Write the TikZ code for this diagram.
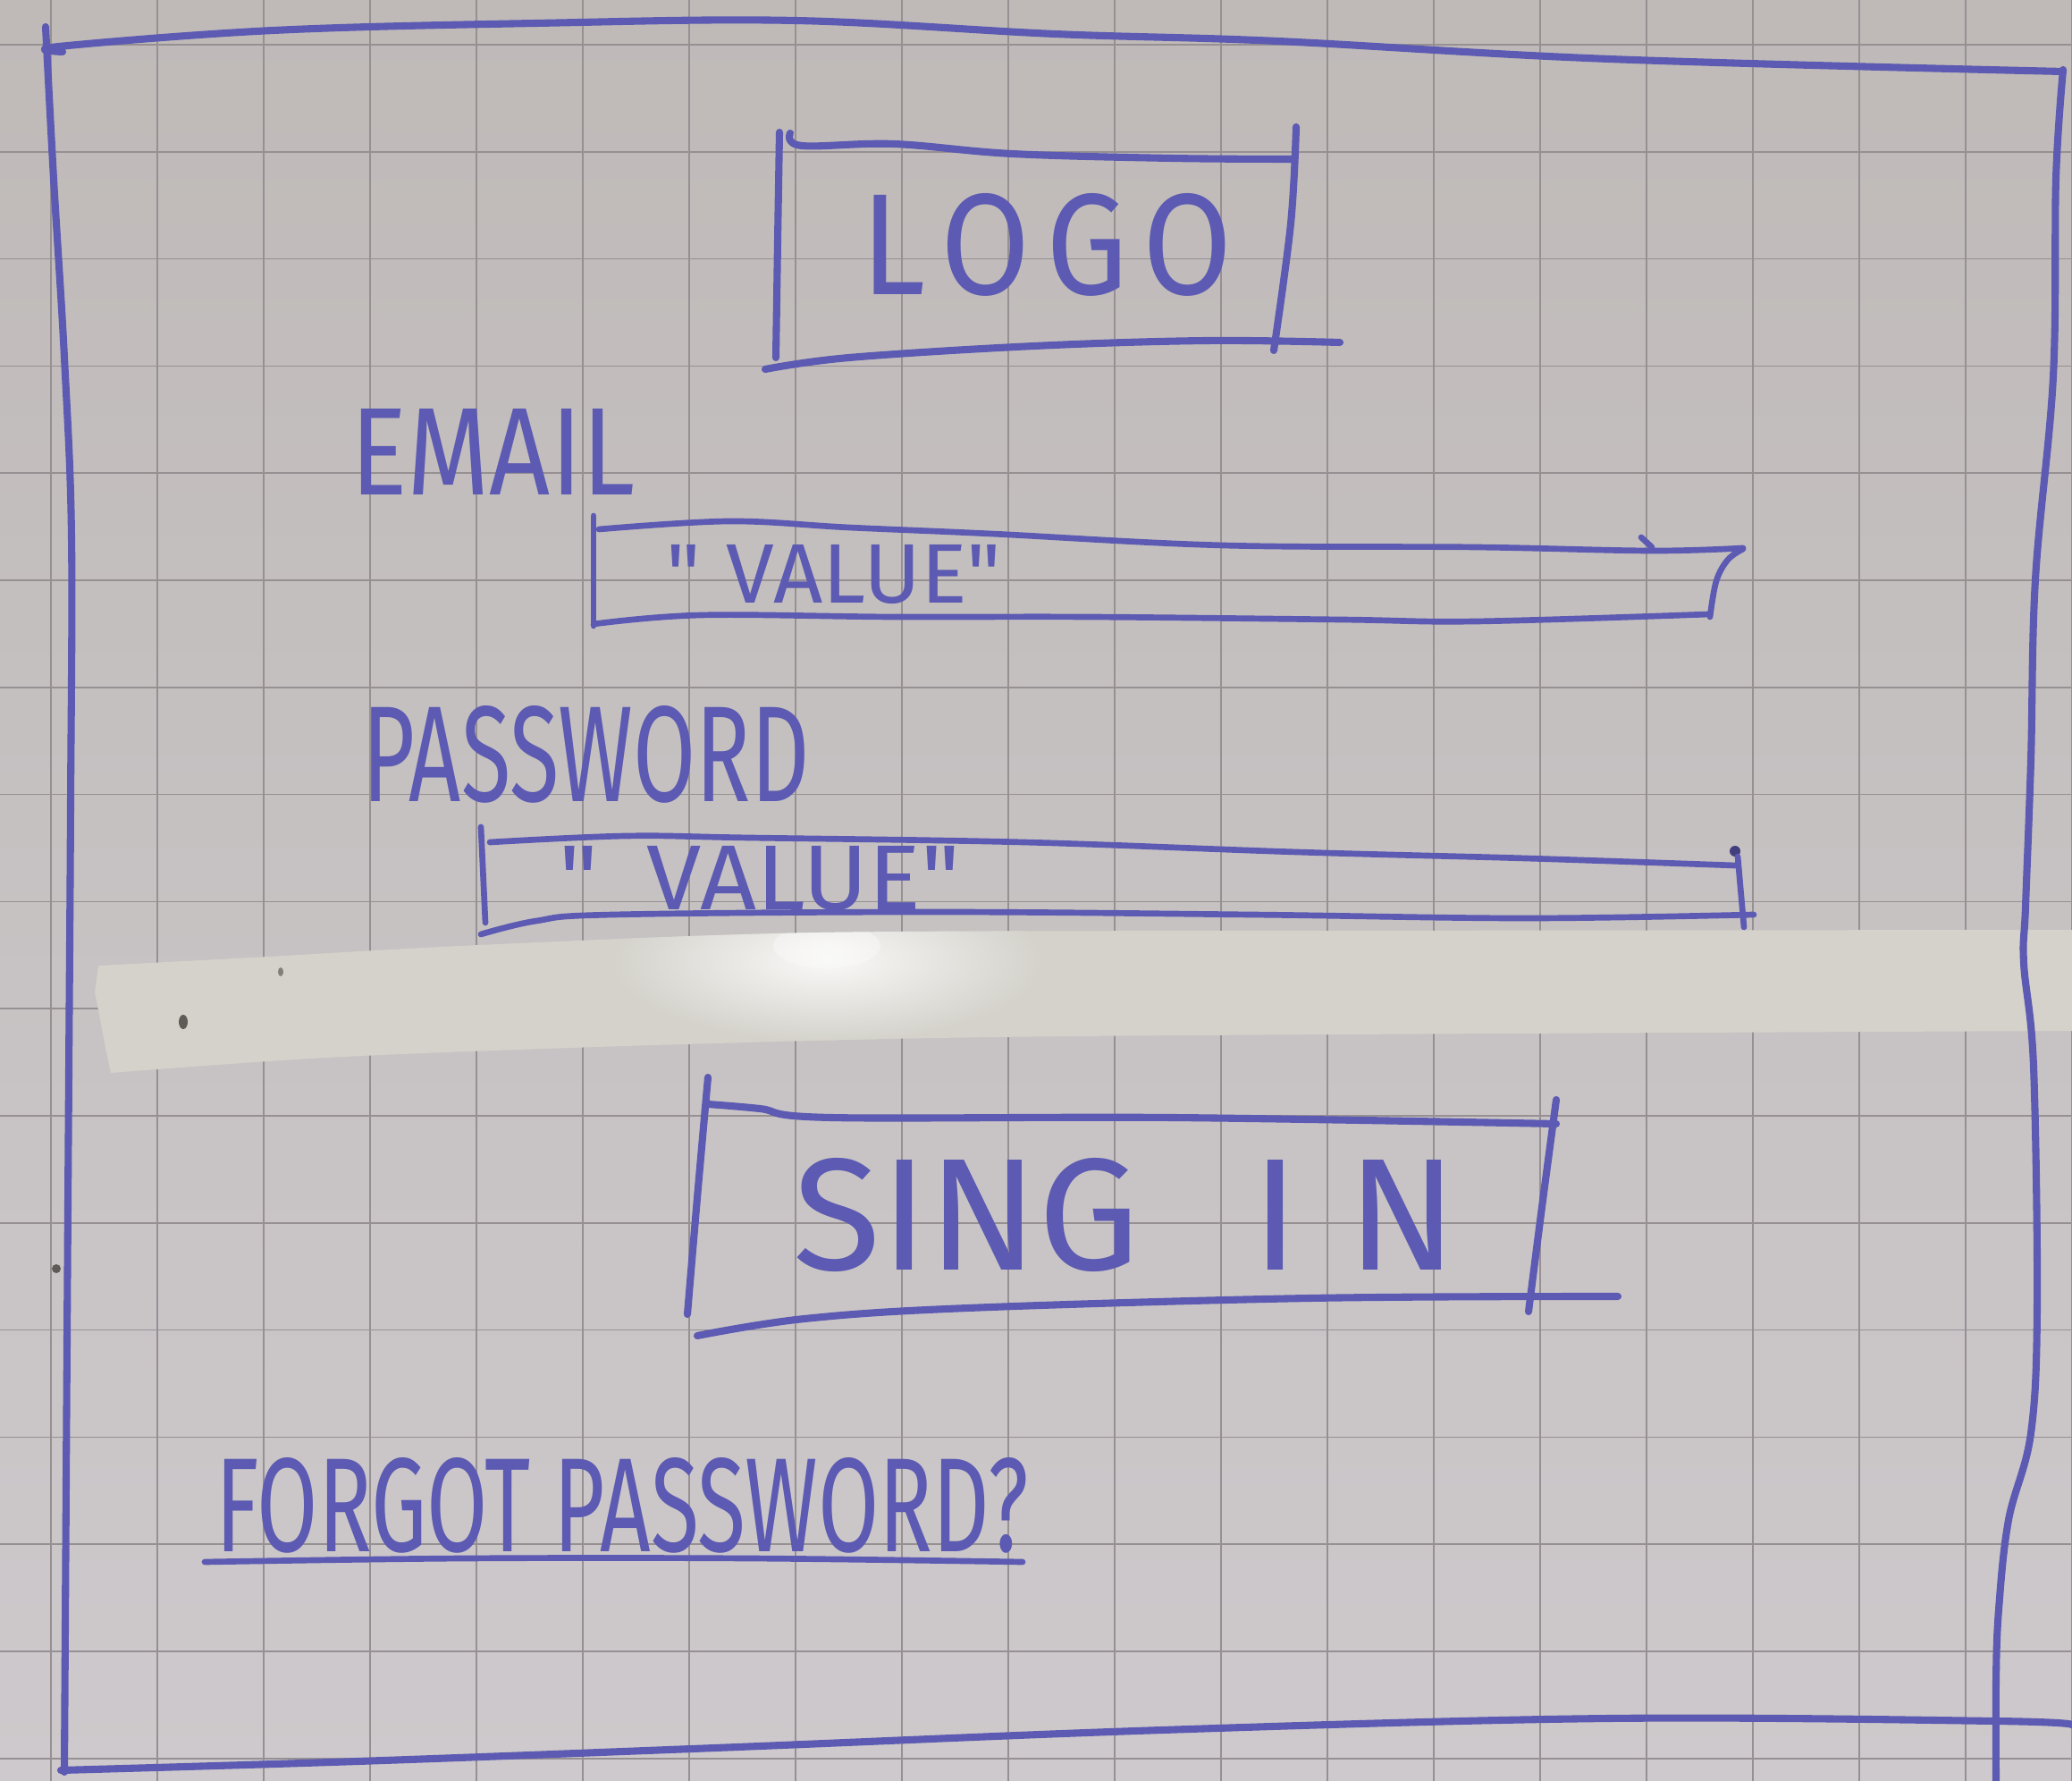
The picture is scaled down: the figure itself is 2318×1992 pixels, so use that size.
\documentclass[tikz,border=0pt]{standalone}
\usepackage{fontspec}
\setmainfont{Fira Sans}[Ligatures=TeXOff]
\usepackage{graphicx}

\definecolor{paperTop}{RGB}{191,186,184}
\definecolor{paperBot}{RGB}{205,201,204}
\definecolor{gridc}{RGB}{150,144,147}
\definecolor{pen}{RGB}{92,90,178}
\definecolor{tapec}{RGB}{212,210,203}
\definecolor{speck}{RGB}{95,92,88}

\newcommand{\tapeoutline}{plot[smooth, tension=0.5] coordinates {(110,1080) (300,1070) (536,1057) (918,1043) (1500,1041) (2318,1040)}
  -- (2318,1157)
  -- plot[smooth, tension=0.5] coordinates {(2318,1153) (1200,1159) (765,1168) (383,1182) (124,1200)}
  -- (118,1172) -- (112,1140) -- (106,1110) -- cycle}

\begin{document}
\begin{tikzpicture}[x=0.01cm,y=-0.01cm,
  pen/.style={draw=pen, line width=2.3pt, line cap=round, line join=round},
  penthin/.style={pen, line width=1.9pt},
  gridline/.style={draw=gridc, line width=0.5pt},
  hand/.style={inner sep=0pt, outer sep=0pt, text=pen, anchor=base west}]

% sheet of squared paper
\useasboundingbox (0,0) rectangle (2318,1992);
\shade[top color=paperTop, bottom color=paperBot] (0,0) rectangle (2318,1992);
\foreach \k in {0,...,19}
  \draw[gridline] ({57+119*\k},0) -- ({57+119*\k},1992);
\foreach \k in {0,...,16}
  \draw[gridline] (0,{50+119.8*\k}) -- (2318,{50+119.8*\k});

% strip of tape across the sheet, with a soft glare
\fill[tapec] \tapeoutline;
\begin{scope}
  \clip \tapeoutline;
  \shade[inner color=white!85!tapec, outer color=tapec] (925,1075) ellipse (240 and 90);
  \shade[inner color=white, outer color=white!85!tapec, opacity=0.5] (925,1058) ellipse (60 and 25);
\end{scope}
% specks on the tape and on the frame
\fill[speck] (205,1143) ellipse (5 and 8);
\fill[speck, opacity=0.7] (314,1087) ellipse (3 and 5);
\fill[speck] (63,1419) circle (5);

% outer frame of the screen
\draw[pen] plot[smooth, tension=0.6] coordinates {(70,58) (66,52) (306,34) (600,26) (890,23) (1180,38) (1429,46) (1800,66) (2308,80)};
\draw[pen] plot[smooth, tension=0.6] coordinates {(51,30) (60,200) (72,400) (80,600) (79,900) (77,1200) (75,1500) (72,1982)};
\draw[pen] plot[smooth, tension=0.6] coordinates {(2308,78) (2300,200) (2297,421) (2277,648) (2272,850) (2266,1014) (2264,1077) (2275,1193) (2279,1460) (2272,1603) (2247,1700) (2236,1800) (2233,1880) (2233,1992)};
\draw[pen] plot[smooth, tension=0.6] coordinates {(68,1980) (400,1970) (800,1955) (1300,1935) (1800,1922) (2233,1925) (2318,1929)};

% logo placeholder
\draw[pen] plot[smooth, tension=0.6] coordinates {(872,148) (870,270) (868,400)};
\draw[pen] plot[smooth, tension=0.6] coordinates {(884,149) (897,163) (1000,161) (1132,172) (1310,177) (1445,178)};
\draw[pen] plot[smooth, tension=0.6] coordinates {(1450,142) (1444,250) (1425,392)};
\draw[pen] plot[smooth, tension=0.6] coordinates {(856,413) (950,400) (1157,387) (1350,381) (1499,383)};
\node[hand] (logo) at (963,330) {\resizebox{4.16cm}{1.13cm}{L\hspace{0.12em}O\hspace{0.12em}G\hspace{0.12em}O}};

% email label and field
\node[hand] (emaillbl) at (392,554) {\resizebox{3.18cm}{0.96cm}{EMAIL}};
\draw[penthin] (664,577) -- (664,700);
\draw[penthin] plot[smooth, tension=0.6] coordinates {(670,592) (816,583) (950,590) (1109,597) (1369,610) (1651,612) (1847,616) (1950,613)};
\draw[penthin] (1836,601) -- (1848,612);
\draw[penthin] plot[smooth, tension=0.6] coordinates {(1950,614) (1933,626) (1920,650) (1913,690)};
\draw[penthin] plot[smooth, tension=0.6] coordinates {(664,698) (784,688) (1000,690) (1218,690) (1500,693) (1651,695) (1912,687)};
\node[hand] (emailval) at (745,675) {\resizebox{3.75cm}{0.65cm}{"\hspace{0.3em}VALUE"}};

% password label and field
\node[hand] (passlbl) at (405,897) {\resizebox{5.0cm}{1.07cm}{PASSWORD}};
\draw[penthin] (538,925) -- (543,1032);
\draw[penthin] plot[smooth, tension=0.6] coordinates {(548,942) (700,935) (839,937) (1145,942) (1451,953) (1707,960) (1941,968)};
\fill[pen!70!black] (1941,952) circle (6);
\draw[penthin] (1944,958) -- (1951,1037);
\draw[penthin] plot[smooth, tension=0.6] coordinates {(538,1045) (600,1030) (686,1023) (1043,1020) (1400,1023) (1707,1027) (1962,1023)};
\node[hand] (passval) at (625,1018) {\resizebox{4.49cm}{0.71cm}{"\hspace{0.5em}VALUE"}};

% sign-in button
\draw[pen] plot[smooth, tension=0.6] coordinates {(792,1205) (780,1340) (769,1470)};
\draw[pen] plot[smooth, tension=0.6] coordinates {(792,1235) (850,1240) (930,1250) (1312,1250) (1741,1257)};
\draw[pen] plot[smooth, tension=0.6] coordinates {(1741,1230) (1725,1350) (1710,1467)};
\draw[pen] plot[smooth, tension=0.6] coordinates {(780,1494) (900,1475) (1083,1463) (1465,1452) (1810,1450)};
\node[hand] (signin) at (887,1420) {\resizebox{7.43cm}{1.25cm}{SING\hspace{0.7em}I\hspace{0.3em}N}};

% forgot-password link
\node[hand] (forgot) at (241,1735) {\resizebox{9.09cm}{1.05cm}{FORGOT PASSWORD?}};
\draw[penthin] plot[smooth, tension=0.6] coordinates {(229,1747) (519,1743) (838,1743) (1144,1747)};

\end{tikzpicture}
\end{document}
